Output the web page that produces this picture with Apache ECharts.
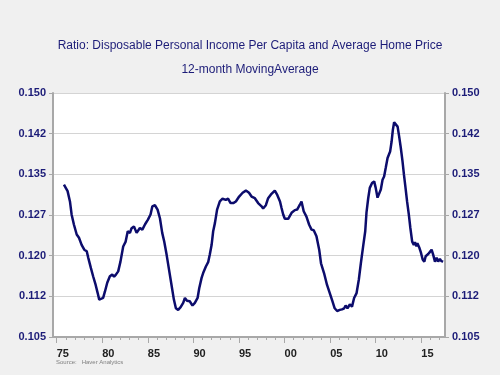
<!DOCTYPE html>
<html>
<head>
<meta charset="utf-8">
<script src="https://cdn.jsdelivr.net/npm/echarts@6/dist/echarts.min.js"></script>
<style>
html,body{margin:0;padding:0;background:#f0f0f0;}
#c{width:500px;height:375px;}
</style>
</head>
<body>
<div id="c"></div>
<script>
const titleText = "Ratio: Disposable Personal Income Per Capita and Average Home Price";
const subtitleText = "12-month MovingAverage";
const sourceText = "Source:   Haver Analytics";
const yTickLabels = ["0.105","0.112","0.120","0.127","0.135","0.142","0.150"];
const xMajorYears = [1975,1980,1985,1990,1995,2000,2005,2010,2015];
const xMinorYears = [1975,1976,1977,1978,1979,1980,1981,1982,1983,1984,1985,1986,1987,1988,1989,1990,1991,1992,1993,1994,1995,1996,1997,1998,1999,2000,2001,2002,2003,2004,2005,2006,2007,2008,2009,2010,2011,2012,2013,2014,2015,2016,2017];
const dates = [1975.8,1976.0,1976.2,1976.46,1976.64,1976.9,1977.2,1977.45,1977.74,1978.03,1978.3,1978.47,1978.76,1979.0,1979.28,1979.5,1979.67,1979.86,1980.1,1980.3,1980.55,1980.84,1981.1,1981.3,1981.5,1981.75,1982.0,1982.3,1982.57,1982.8,1983.04,1983.2,1983.48,1983.77,1984.13,1984.4,1984.7,1985.0,1985.3,1985.5,1985.78,1986.07,1986.33,1986.58,1986.8,1987.06,1987.3,1987.6,1987.86,1988.08,1988.33,1988.6,1988.88,1989.07,1989.3,1989.6,1989.9,1990.16,1990.46,1990.64,1990.9,1991.07,1991.37,1991.62,1991.8,1992.0,1992.17,1992.36,1992.6,1992.9,1993.2,1993.56,1993.8,1994.08,1994.37,1994.66,1995.02,1995.4,1995.76,1996.1,1996.38,1996.74,1997.1,1997.48,1997.65,1997.95,1998.2,1998.57,1998.93,1999.2,1999.5,1999.67,1999.85,2000.03,2000.4,2000.77,2001.13,2001.38,2001.68,2001.86,2002.1,2002.4,2002.7,2002.96,2003.2,2003.5,2003.8,2004.0,2004.33,2004.66,2004.96,2005.25,2005.5,2005.77,2006.06,2006.3,2006.54,2006.7,2006.9,2007.16,2007.4,2007.63,2007.9,2008.15,2008.37,2008.62,2008.85,2008.99,2009.17,2009.35,2009.6,2009.83,2010.0,2010.2,2010.37,2010.56,2010.75,2010.92,2011.1,2011.3,2011.44,2011.58,2011.74,2011.88,2012.02,2012.2,2012.4,2012.57,2012.75,2012.94,2013.1,2013.27,2013.44,2013.63,2013.8,2014.0,2014.18,2014.3,2014.47,2014.57,2014.8,2014.97,2015.15,2015.33,2015.48,2015.62,2015.76,2015.95,2016.13,2016.3,2016.5,2016.68,2016.85,2017.04,2017.2,2017.4];
const ratio = [0.1331,0.1325,0.1319,0.1300,0.1276,0.1257,0.1239,0.1233,0.1220,0.1211,0.1208,0.1196,0.1177,0.1162,0.1146,0.1131,0.1119,0.1117,0.1122,0.1134,0.1150,0.1162,0.1165,0.1161,0.1165,0.1171,0.1189,0.1217,0.1226,0.1245,0.1242,0.1250,0.1254,0.1242,0.1251,0.1248,0.1258,0.1266,0.1276,0.1291,0.1293,0.1285,0.1269,0.1242,0.1226,0.1202,0.1177,0.1146,0.1119,0.1103,0.1100,0.1105,0.1113,0.1122,0.1117,0.1116,0.1108,0.1113,0.1122,0.1140,0.1159,0.1168,0.1180,0.1188,0.1202,0.1220,0.1245,0.1260,0.1285,0.1300,0.1305,0.1303,0.1305,0.1297,0.1297,0.1300,0.1309,0.1316,0.1320,0.1316,0.1309,0.1306,0.1297,0.1291,0.1287,0.1293,0.1306,0.1314,0.1320,0.1312,0.1300,0.1288,0.1276,0.1268,0.1268,0.1279,0.1284,0.1285,0.1294,0.1300,0.1282,0.1272,0.1257,0.1248,0.1247,0.1236,0.1211,0.1186,0.1168,0.1146,0.1131,0.1116,0.1103,0.1098,0.1100,0.1101,0.1103,0.1108,0.1103,0.1110,0.1106,0.1122,0.1131,0.1156,0.1186,0.1217,0.1245,0.1280,0.1305,0.1325,0.1334,0.1337,0.1325,0.1307,0.1306,0.1322,0.1340,0.1346,0.1362,0.1380,0.1386,0.1392,0.1410,0.1432,0.1446,0.1443,0.1438,0.1420,0.1399,0.1374,0.1349,0.1325,0.1300,0.1276,0.1251,0.1226,0.1220,0.1225,0.1217,0.1223,0.1214,0.1205,0.1193,0.1189,0.1199,0.1196,0.1203,0.1207,0.1211,0.1202,0.1189,0.1196,0.1189,0.1194,0.1190,0.1189];

const seriesData = dates.map((d, i) => [d, ratio[i]]);
const yFmt = v => yTickLabels[Math.round((v - 0.105) / 0.0075)] || '';
const navy = '#1c1c78';
const font = 'Liberation Sans, Arial, sans-serif';

const yAxisCommon = {
  type: 'value', min: 0.105, max: 0.150, interval: 0.0075,
  axisLine: { show: true, lineStyle: { color: '#a8a8a8', width: 2 } },
  axisTick: { show: true, length: 4, lineStyle: { color: '#a8a8a8' } },
  axisLabel: { formatter: yFmt, color: navy, fontSize: 11, fontWeight: 'bold', fontFamily: font, margin: 7 },
};

const chart = echarts.init(document.getElementById('c'), null, { renderer: 'canvas' });
chart.setOption({
  backgroundColor: '#f0f0f0',
  animation: false,
  title: [
    { text: titleText, left: 'center', top: 35, textStyle: { color: navy, fontSize: 12, fontWeight: 'normal', fontFamily: font } },
    { text: subtitleText, left: 'center', top: 59, textStyle: { color: navy, fontSize: 12, fontWeight: 'normal', fontFamily: font } }
  ],
  graphic: [
    { type: 'text', left: 56, top: 359, style: { text: sourceText, fill: '#808080', fontSize: 6, fontFamily: font } }
  ],
  grid: { left: 53, right: 55, top: 93, bottom: 38, show: true, backgroundColor: '#ffffff', borderWidth: 0 },
  xAxis: [
    {
      type: 'value', min: 1974.6, max: 2017.6, position: 'bottom',
      splitLine: { show: false },
      axisLine: { show: true, onZero: false, lineStyle: { color: '#a8a8a8', width: 2 } },
      axisTick: { show: true, length: 3, customValues: xMinorYears, lineStyle: { color: '#a8a8a8' } },
      axisLabel: { show: false }
    },
    {
      type: 'value', min: 1974.6, max: 2017.6, position: 'bottom',
      splitLine: { show: false },
      axisLine: { show: false, onZero: false },
      axisTick: { show: true, length: 6, customValues: xMajorYears, lineStyle: { color: '#a8a8a8' } },
      axisLabel: {
        customValues: xMajorYears, align: 'left', margin: 11,
        formatter: v => String(Math.round(v) % 100).padStart(2, '0'),
        color: '#202020', fontSize: 11, fontWeight: 'bold', fontFamily: font
      }
    }
  ],
  yAxis: [
    Object.assign({}, yAxisCommon, { position: 'left', splitLine: { show: true, lineStyle: { color: '#d4d4d4', width: 1 } } }),
    Object.assign({}, yAxisCommon, { position: 'right', splitLine: { show: false } })
  ],
  series: [{
    type: 'line', data: seriesData, xAxisIndex: 0, yAxisIndex: 0,
    showSymbol: false, symbol: 'none',
    lineStyle: { color: '#0c0c6c', width: 2.5 }
  }]
});
</script>
</body>
</html>
